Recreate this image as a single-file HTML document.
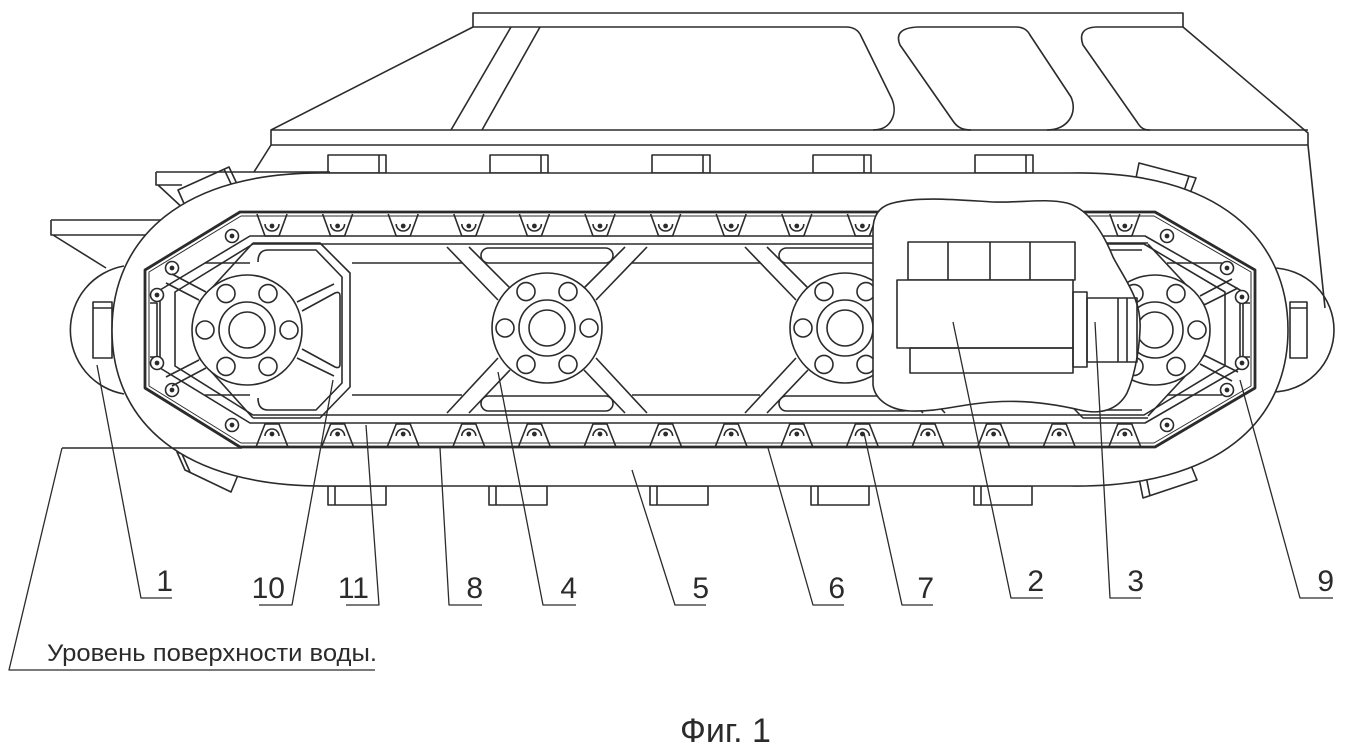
<!DOCTYPE html>
<html><head><meta charset="utf-8">
<style>html,body{margin:0;padding:0;background:#fff;}svg{display:block}</style>
</head><body>
<svg width="1348" height="750" viewBox="0 0 1348 750" xmlns="http://www.w3.org/2000/svg">
<defs>
<g id="hub">
<circle r="55" fill="#fff"/>
<circle r="28"/>
<circle r="18"/>
<circle cx="42" r="9"/><circle cx="-42" r="9"/>
<circle cx="21" cy="36.4" r="9"/><circle cx="-21" cy="36.4" r="9"/>
<circle cx="21" cy="-36.4" r="9"/><circle cx="-21" cy="-36.4" r="9"/>
</g>
<g id="lt"><path d="M-15,214 L-7,236 H7 L15,214"/><path d="M-7,224 A7,7 0 0 0 7,224"/><circle cy="226" r="1.6" fill="#2b2b2b"/></g>
<g id="lb"><path d="M-16,447 L-7,424 H7 L16,447"/><path d="M-7,436 A7,7 0 0 1 7,436"/><circle cy="434" r="1.6" fill="#2b2b2b"/></g>
<g id="lc"><circle r="6.5" fill="#fff"/><circle r="1.6" fill="#2b2b2b"/></g>
</defs>

<g fill="none" stroke="#2b2b2b" stroke-width="1.6" stroke-linejoin="round">
<!-- hull -->
<path d="M473,27 V13 H1183 V27"/>
<path d="M473,27 H540"/>
<path d="M473,27 L271,130 V145 L254,172"/>
<path d="M511,27 L451,130 M540,27 L482,130"/>
<path d="M540,27 H846 Q857,27 861,36 L892,99 C898,114 891,130 873,130"/>
<path d="M918,27 H1016 Q1026,27 1030,35 L1071,97 C1078,113 1068,130 1047,130 M971,130 C962,130 957,127 953,121 L900,45 Q893,28 918,27"/>
<path d="M1096,27 H1183 M1150,130 C1143,130 1140,127 1137,122 L1083,45 Q1077,28 1096,27"/>
<path d="M1183,27 L1308,133 V145 L1325,308"/>
<path d="M271,130 H1308 M271,145 H1308"/>
<path d="M156,172 H330"/>
<path d="M156,172 V185 H182 M158,185 L186,211"/>
<path d="M51,220 H165 M51,220 V235 H150 M53,235 L106,268"/>
<!-- bulges -->
<path d="M124,266 A65,65 0 0 0 124,394"/>
<rect x="93" y="302" width="19" height="56"/><path d="M93,308 H112"/>
<path d="M1272,268 A62,62 0 0 1 1272,392"/>
<rect x="1290" y="302" width="17" height="56"/><path d="M1290,308 H1307"/>
<!-- top grousers -->
<rect x="328" y="155" width="58" height="18"/><path d="M379,155 V173"/>
<rect x="490" y="155" width="58" height="18"/><path d="M541,155 V173"/>
<rect x="652" y="155" width="58" height="18"/><path d="M703,155 V173"/>
<rect x="813" y="155" width="58" height="18"/><path d="M864,155 V173"/>
<rect x="975" y="155" width="58" height="18"/><path d="M1026,155 V173"/>
<!-- bottom grousers -->
<rect x="328" y="486" width="58" height="19"/><path d="M335,486 V505"/>
<rect x="489" y="486" width="58" height="19"/><path d="M496,486 V505"/>
<rect x="650" y="486" width="58" height="19"/><path d="M657,486 V505"/>
<rect x="811" y="486" width="58" height="19"/><path d="M818,486 V505"/>
<rect x="974" y="486" width="58" height="19"/><path d="M981,486 V505"/>
<!-- corner grousers -->
<path d="M178,190 L229,167 L237,184 L186,208 Z M224,169 L232,186"/>
<path d="M177,452 L185,470 L231,492 L238,475 Z M182,454 L190,472"/>
<path d="M1139,163 L1196,178 L1189,196 L1136,178 Z M1189,176 L1183,194"/>
<path d="M1139,478 L1143,498 L1197,480 L1190,463 Z M1146,476 L1150,496"/>

<!-- track loop -->
<path fill="#fff" d="M330,173 H1070 C1220,170 1288,240 1288,330 C1288,420 1220,488 1070,486 H330 C180,488 112,420 112,330 C112,240 180,170 330,173 Z"/>
<path d="M62,448 H242"/>

<!-- chain -->
<polygon points="240,212 1155,212 1255,270 1255,388 1155,447 240,447 145,388 145,270" stroke-width="2.8"/>
<polygon points="241,216 1154,216 1251,272 1251,386 1154,443 241,443 149,386 149,272" stroke-width="1"/>
<polygon points="250,236 1145,236 1240,290 1240,368 1145,423 250,423 160,368 160,290"/>
<polygon points="253,244 1144,244 1225,292 1225,366 1144,415 253,415 175,366 175,292"/>
<path d="M150,303 H157 V357 H150 M1250,303 H1243 V357 H1250"/>

<!-- lugs -->
<use href="#lt" x="272"/><use href="#lt" x="337.6"/><use href="#lt" x="403.2"/><use href="#lt" x="468.8"/><use href="#lt" x="534.4"/><use href="#lt" x="600"/><use href="#lt" x="665.6"/><use href="#lt" x="731.2"/><use href="#lt" x="796.8"/><use href="#lt" x="862.4"/><use href="#lt" x="928"/><use href="#lt" x="993.6"/><use href="#lt" x="1059.2"/><use href="#lt" x="1124.8"/>
<use href="#lb" x="272"/><use href="#lb" x="337.6"/><use href="#lb" x="403.2"/><use href="#lb" x="468.8"/><use href="#lb" x="534.4"/><use href="#lb" x="600"/><use href="#lb" x="665.6"/><use href="#lb" x="731.2"/><use href="#lb" x="796.8"/><use href="#lb" x="862.4"/><use href="#lb" x="928"/><use href="#lb" x="993.6"/><use href="#lb" x="1059.2"/><use href="#lb" x="1124.8"/>
<use href="#lc" x="232" y="236"/><use href="#lc" x="172" y="268"/><use href="#lc" x="157" y="295"/><use href="#lc" x="157" y="363"/><use href="#lc" x="172" y="390"/><use href="#lc" x="232" y="425"/>
<use href="#lc" x="1167" y="236"/><use href="#lc" x="1227" y="268"/><use href="#lc" x="1242" y="297"/><use href="#lc" x="1242" y="363"/><use href="#lc" x="1227" y="390"/><use href="#lc" x="1167" y="425"/>

<!-- frame openings -->
<path d="M205,263 H250 M352,263 H462 M632,263 H760 M930,263 H1050 M1167,263 H1222"/>
<path d="M205,395 H250 M352,395 H462 M632,395 H760 M930,395 H1050 M1167,395 H1222"/>
<!-- truss hub 4 -->
<path d="M447,247 L498,300 M469,247 L510,288 M647,247 L596,300 M625,247 L584,288 M447,413 L498,358 M469,413 L510,370 M647,413 L596,358 M625,413 L584,370"/>
<rect x="481" y="248" width="132" height="15" rx="7.5"/>
<rect x="481" y="396" width="132" height="15" rx="7.5"/>
<!-- truss hub 845 -->
<path d="M745,247 L796,300 M767,247 L808,288 M945,247 L894,300 M923,247 L882,288 M745,413 L796,358 M767,413 L808,370 M945,413 L894,358 M923,413 L882,370"/>
<rect x="779" y="248" width="132" height="15" rx="7.5"/>
<rect x="779" y="396" width="132" height="15" rx="7.5"/>

<!-- left bracket 10 -->
<path d="M253,243 H320 L350,273 V387 L320,418 H253"/>
<path d="M258,262 Q258,250 268,250 H316 L342,277 V383 L316,410 H268 Q258,410 258,398"/>
<path d="M253,243 L199,302 M199,358 L253,418"/>
<path d="M199,300 L166,283 M206,292 L172,274 M199,360 L166,377 M206,368 L172,386"/>
<path d="M297,302 L334,284 M302,311 L335,293 Q340,291 340,296 V364 Q340,369 335,367 L302,349 M297,358 L334,376"/>
<!-- right bracket -->
<path d="M1148,243 H1083 L1053,273 V387 L1083,418 H1148"/>
<path d="M1142,250 H1087 L1061,277 V383 L1087,410 H1142"/>
<path d="M1148,244 L1204,304 M1204,356 L1148,416"/>
<path d="M1204,305 L1238,288 M1200,296 L1232,279 M1204,355 L1238,372 M1200,364 L1232,381"/>

<use href="#hub" transform="translate(247,330)"/>
<use href="#hub" transform="translate(547,328)"/>
<use href="#hub" transform="translate(845,328)"/>
<use href="#hub" transform="translate(1155,330)"/>

<!-- engine -->
<path fill="#fff" d="M893,203 C920,196 960,200 993,202 C1020,203 1045,198 1067,203 C1085,208 1100,225 1113,257 C1125,280 1142,300 1140,330 C1139,355 1133,380 1127,393 C1118,410 1100,415 1080,410 C1050,403 1020,400 993,402 C960,404 940,412 910,411 C890,410 875,400 873,385 L873,230 C873,215 880,206 893,203 Z"/>
<rect x="908" y="242" width="167" height="38"/>
<path d="M948,242 V280 M990,242 V280 M1030,242 V280"/>
<rect x="897" y="280" width="176" height="68" fill="#fff"/>
<rect x="910" y="348" width="163" height="25"/>
<rect x="1073" y="292" width="14" height="75"/>
<rect x="1087" y="298" width="50" height="64"/>
<path d="M1118,298 V362 M1127,298 V362"/>

<!-- leaders -->
<g stroke-width="1.3">
<path d="M97,365 L141,598 H172"/>
<path d="M333,380 L292,605 H259"/>
<path d="M366,425 L379,605 H346"/>
<path d="M440,448 L449,605 H482"/>
<path d="M498,372 L543,605 H576"/>
<path d="M632,470 L675,605 H706"/>
<path d="M768,448 L813,605 H844"/>
<path d="M864,433 L902,605 H933"/>
<path d="M953,322 L1011,598 H1043"/>
<path d="M1095,322 L1110,598 H1141"/>
<path d="M1240,380 L1300,598 H1333"/>
<path d="M62,448 L9,670 H375"/>
</g>
</g>

<g font-family="'Liberation Sans', 'DejaVu Sans', sans-serif" fill="#2b2b2b" font-size="30" text-anchor="end">
<text x="173" y="591">1</text>
<text x="285" y="598">10</text>
<text x="369" y="598">11</text>
<text x="483" y="598">8</text>
<text x="577" y="598">4</text>
<text x="709" y="598">5</text>
<text x="845" y="598">6</text>
<text x="934" y="598">7</text>
<text x="1044" y="591">2</text>
<text x="1144" y="591">3</text>
<text x="1334" y="591">9</text>
</g>
<text x="47" y="661" font-family="'Liberation Sans', 'DejaVu Sans', sans-serif" font-size="24" fill="#2b2b2b" textLength="330" lengthAdjust="spacingAndGlyphs">Уровень поверхности воды.</text>
<text x="680" y="742" font-family="'Liberation Sans', 'DejaVu Sans', sans-serif" font-size="34" fill="#2b2b2b">Фиг. 1</text>
</svg>
</body></html>
